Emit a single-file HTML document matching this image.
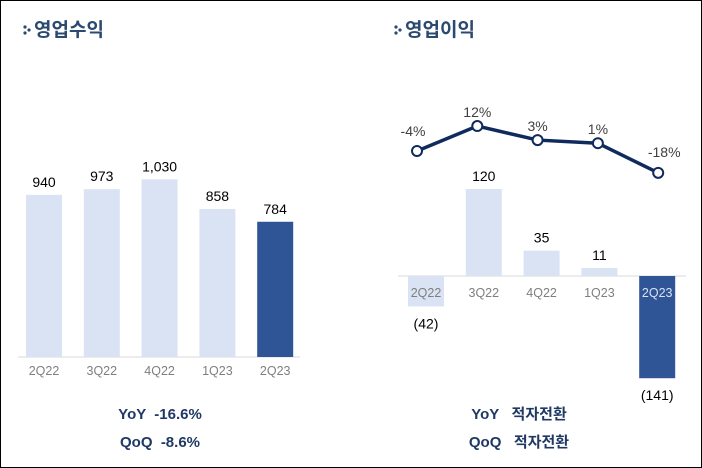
<!DOCTYPE html>
<html><head><meta charset="utf-8"><style>
html,body{margin:0;padding:0;background:#fff}
svg{display:block}
text{font-family:"Liberation Sans","Noto Sans CJK KR",sans-serif;white-space:pre}
</style></head><body>
<svg id="c" width="702" height="468" viewBox="0 0 702 468">
<rect x="0.5" y="0.5" width="701" height="467" fill="#fff" stroke="#000"/>
<g>
<circle cx="25" cy="27" r="1.6" fill="#2b4a6f"/><circle cx="29" cy="30" r="1.6" fill="#2b4a6f"/><circle cx="25" cy="33" r="1.6" fill="#2b4a6f"/>
<text x="34" y="36" font-size="19" font-weight="bold" fill="#2b4a6f">영업수익</text></g>
<g>
<circle cx="396" cy="27" r="1.6" fill="#2b4a6f"/><circle cx="400" cy="30" r="1.6" fill="#2b4a6f"/><circle cx="396" cy="33" r="1.6" fill="#2b4a6f"/>
<text x="405" y="36" font-size="19" font-weight="bold" fill="#2b4a6f">영업이익</text></g>
<line x1="18" y1="357" x2="300" y2="357" stroke="#d9d9d9"/>
<line x1="398" y1="276" x2="686" y2="276" stroke="#d9d9d9"/>
<g id="left"></g><g id="right"></g>
<text x="160" y="419" font-size="15" font-weight="bold" fill="#1f3864" text-anchor="middle">YoY  -16.6%</text>
<text x="160" y="447" font-size="15" font-weight="bold" fill="#1f3864" text-anchor="middle">QoQ  -8.6%</text>
<text x="519" y="419" font-size="15" font-weight="bold" fill="#1f3864" text-anchor="middle">YoY   적자전환</text>
<text x="519" y="447" font-size="15" font-weight="bold" fill="#1f3864" text-anchor="middle">QoQ   적자전환</text>
</svg>
<script>
const categories=["2Q22","3Q22","4Q22","1Q23","2Q23"];
const revenue=[940,973,1030,858,784];
const revenueLabels=["940","973","1,030","858","784"];
const opIncome=[-42,120,35,11,-141];
const opIncomeLabels=["(42)","120","35","11","(141)"];
const margin=[-4,12,3,1,-18];
const marginLabels=["-4%","12%","3%","1%","-18%"];
const NS="http://www.w3.org/2000/svg";
function mk(t,a,p){const e=document.createElementNS(NS,t);for(const k in a)e.setAttribute(k,a[k]);p.appendChild(e);return e;}
const L=document.getElementById('left'),R=document.getElementById('right');
const lx=i=>26+i*57.8, ly=v=>357-v*0.1725;
const rx=i=>408+i*57.8, ry=v=>276-v*0.725;
const mx=i=>417+i*60.3, my=v=>144.75-v*1.56;
const light="#dae3f3",dark="#2f5597";
revenue.forEach((v,i)=>{
 const col=i===4?dark:light;
 const b=mk('rect',{x:lx(i),y:ly(v),width:36,height:357-ly(v),fill:col},L);
 
 
 const t=mk('text',{x:lx(i)+18,y:ly(v)-8,'font-size':14,'text-anchor':'middle',fill:'#000'},L);t.textContent=revenueLabels[i];
 
 
 const c=mk('text',{x:lx(i)+18,y:375,'font-size':12.5,'text-anchor':'middle',fill:'#7f7f7f'},L);c.textContent=categories[i];
 
 
});
opIncome.forEach((v,i)=>{
 const col=i===4?dark:light;
 const y0=Math.min(ry(v),276),h=Math.abs(ry(v)-276);
 const b=mk('rect',{x:rx(i),y:y0,width:36,height:h,fill:col},R);
 
 
 const ty=v>=0?ry(v)-8:ry(v)+22;
 const t=mk('text',{x:rx(i)+18,y:ty,'font-size':14,'text-anchor':'middle',fill:'#000'},R);t.textContent=opIncomeLabels[i];
 
 
 const c=mk('text',{x:rx(i)+18,y:297,'font-size':12.5,'text-anchor':'middle',fill:i===4?'#dae3f3':'#7f7f7f'},R);c.textContent=categories[i];
 
 
});
const pts=margin.map((v,i)=>mx(i)+','+my(v)).join(' ');
const pl=mk('polyline',{points:pts,fill:'none',stroke:'#0f2a5c','stroke-width':3.5},R);


margin.forEach((v,i)=>{
 const c=mk('circle',{cx:mx(i),cy:my(v),r:5,fill:'#fff',stroke:'#0f2a5c','stroke-width':2},R);
 
 
 const dx=i===0?-4:(i===4?6:0);
 const t=mk('text',{x:mx(i)+dx,y:my(v)-(i===4?16:i===0?15:9),'font-size':14,'text-anchor':'middle',fill:'#404040'},R);t.textContent=marginLabels[i];
 
 
});
</script>
</body></html>
